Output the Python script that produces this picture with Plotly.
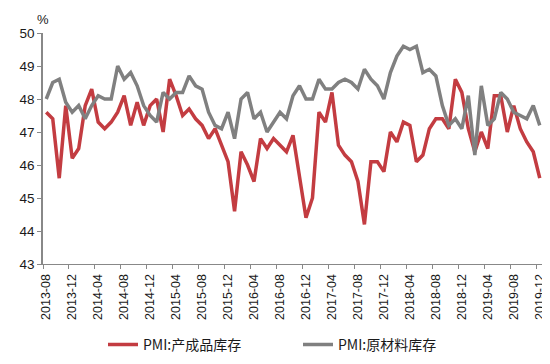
import plotly.graph_objects as go

# ---- data ----
start_year, start_month, n_months = 2013, 8, 77
months = [f"{start_year + (start_month - 1 + k) // 12}-{(start_month - 1 + k) % 12 + 1:02d}" for k in range(n_months)]

finished_goods = [
    47.6, 47.4, 45.6, 47.8, 46.2, 46.5, 47.8, 48.3, 47.3, 47.1, 47.3, 47.6,
    48.1, 47.2, 47.9, 47.2, 47.8, 48.0, 47.0, 48.6, 48.1, 47.5, 47.7, 47.4,
    47.2, 46.8, 47.1, 46.6, 46.1, 44.6, 46.4, 46.0, 45.5, 46.8, 46.5, 46.8,
    46.6, 46.4, 46.9, 45.7, 44.4, 45.0, 47.6, 47.3, 48.2, 46.6, 46.3, 46.1,
    45.5, 44.2, 46.1, 46.1, 45.8, 47.0, 46.7, 47.3, 47.2, 46.1, 46.3, 47.1,
    47.4, 47.4, 47.1, 48.6, 48.2, 47.1, 46.4, 47.0, 46.5, 48.1, 48.1, 47.0,
    47.8, 47.1, 46.7, 46.4, 45.6,
]
raw_materials = [
    48.0, 48.5, 48.6, 47.9, 47.6, 47.8, 47.4, 47.8, 48.1, 48.0, 48.0, 49.0,
    48.6, 48.8, 48.4, 47.8, 47.5, 47.3, 48.2, 48.0, 48.2, 48.2, 48.7, 48.4,
    48.3, 47.6, 47.2, 47.1, 47.6, 46.8, 48.0, 48.2, 47.4, 47.6, 47.0, 47.3,
    47.6, 47.4, 48.1, 48.4, 48.0, 48.0, 48.6, 48.3, 48.3, 48.5, 48.6, 48.5,
    48.3, 48.9, 48.6, 48.4, 48.0, 48.8, 49.3, 49.6, 49.5, 49.6, 48.8, 48.9,
    48.7, 47.8, 47.2, 47.4, 47.1, 48.1, 46.3, 48.4, 47.2, 47.4, 48.2, 48.0,
    47.6, 47.5, 47.4, 47.8, 47.2,
]
tick_labels = months[::4]
series_names = ["PMI:产成品库存", "PMI:原材料库存"]
y_ticks = [43, 44, 45, 46, 47, 48, 49, 50]

# ---- figure ----
fig = go.Figure()
fig.add_trace(go.Scatter(x=months, y=finished_goods, mode="lines", name=series_names[0],
                         line=dict(color="#C33C41", width=3.5)))
fig.add_trace(go.Scatter(x=months, y=raw_materials, mode="lines", name=series_names[1],
                         line=dict(color="#808080", width=3.5)))

fig.update_layout(
    width=550, height=364,
    margin=dict(l=35, r=11, t=25, b=97),
    paper_bgcolor="white", plot_bgcolor="white",
    font=dict(family="Arial, Liberation Sans, sans-serif", color="#1a1a1a", size=12),
    showlegend=True,
    legend=dict(orientation="h", x=0.12, xanchor="left", y=-0.35, yanchor="middle",
                font=dict(family="Noto Sans CJK SC", size=14, color="#1a1a1a"),
                entrywidth=150, itemwidth=30, bgcolor="rgba(0,0,0,0)"),
)
fig.update_xaxes(
    type="category", range=[-0.5, n_months - 0.5],
    tickmode="array", tickvals=tick_labels, ticktext=tick_labels,
    tickson="boundaries", tickangle=-90,
    ticks="outside", ticklen=4, tickcolor="#888888",
    ticklabelstandoff=4,
    showline=True, linecolor="#888888", linewidth=1.2,
    showgrid=False, zeroline=False, tickfont=dict(size=12.5),
)
fig.update_yaxes(
    range=[43, 50], tickvals=y_ticks,
    ticks="outside", ticklen=4, tickcolor="#888888",
    showline=True, linecolor="#888888", linewidth=1.5,
    showgrid=False, zeroline=False, tickfont=dict(size=13.5),
)
fig.add_annotation(text="%", xref="paper", yref="paper", x=0, y=1, xanchor="center", yanchor="bottom",
                   yshift=4, showarrow=False, font=dict(size=13, color="#1a1a1a"))

fig.write_html("out.html")
